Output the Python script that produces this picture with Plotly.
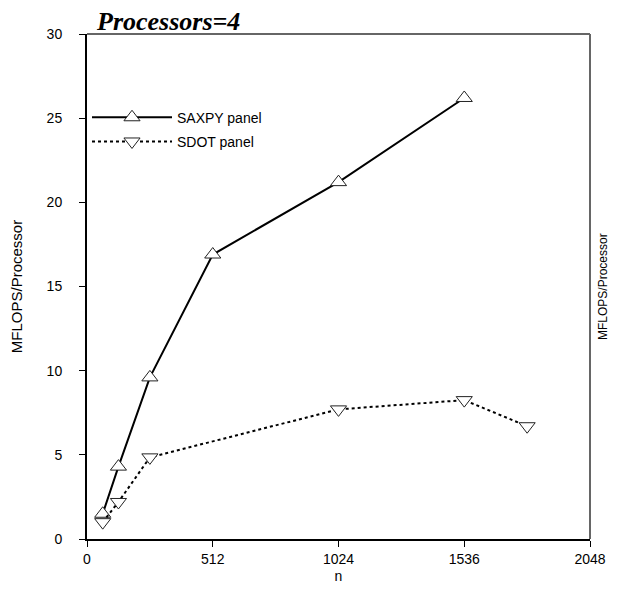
import plotly.graph_objects as go

n_saxpy = [64, 128, 256, 512, 1024, 1536]
saxpy = [1.5, 4.3, 9.6, 16.9, 21.2, 26.2]
n_sdot = [64, 128, 256, 1024, 1536, 1792]
sdot = [1.0, 2.2, 4.85, 7.7, 8.25, 6.7]
x_ticks = [0, 512, 1024, 1536, 2048]
y_ticks = [0, 5, 10, 15, 20, 25, 30]

FONT = "Liberation Sans, Arial, sans-serif"

fig = go.Figure()
fig.add_trace(go.Scatter(
    x=n_saxpy, y=saxpy, name="SAXPY panel", mode="lines+markers",
    legendgroup="a",
    line=dict(color="black", width=2),
    marker=dict(symbol="triangle-up", size=14, color="white",
                line=dict(color="#222", width=1)),
))
fig.add_trace(go.Scatter(
    x=n_sdot, y=sdot, name="SDOT panel", mode="lines+markers",
    legendgroup="b",
    line=dict(color="black", width=2, dash="3px,3px"),
    marker=dict(symbol="triangle-down", size=14, color="white",
                line=dict(color="#222", width=1)),
))

fig.update_layout(
    width=618, height=594,
    margin=dict(l=87, r=18, t=34, b=51),
    paper_bgcolor="white", plot_bgcolor="white",
    font=dict(family=FONT, size=14, color="black"),
    showlegend=True,
    legend=dict(x=0.0, y=0.866, xanchor="left", yanchor="top",
                bgcolor="rgba(0,0,0,0)", font=dict(size=14),
                traceorder="grouped", tracegroupgap=3, itemwidth=80),
    xaxis=dict(range=[0, 2048], tickvals=x_ticks, ticktext=[str(v) for v in x_ticks],
               showgrid=False, zeroline=False, showline=True, linecolor="black",
               linewidth=2, ticks="outside", ticklen=6, tickcolor="black",
               title=dict(text="n", standoff=5, font=dict(size=14))),
    yaxis=dict(range=[0, 30], tickvals=y_ticks, showgrid=False, zeroline=False,
               showline=True, linecolor="black", linewidth=2, ticks="outside",
               ticklen=6, tickcolor="black", ticklabelstandoff=14,
               title=dict(text="MFLOPS/Processor", standoff=20, font=dict(size=15))),
    shapes=[
        dict(type="line", xref="paper", yref="paper", x0=0, x1=1, y0=1, y1=1,
             line=dict(color="#666", width=2)),
        dict(type="line", xref="paper", yref="paper", x0=1, x1=1, y0=0, y1=1,
             line=dict(color="#666", width=2)),
    ],
    annotations=[
        dict(text="<b><i>Processors=4</i></b>", xref="paper", yref="paper",
             x=(94 - 87) / 513, y=1.0, xanchor="left", yanchor="bottom",
             showarrow=False, yshift=-4,
             font=dict(family="Liberation Serif, Times New Roman, serif", size=26)),
        dict(text="MFLOPS/Processor", xref="paper", yref="paper",
             x=1.0, xshift=4, y=0.499, xanchor="left", yanchor="middle",
             textangle=-90, showarrow=False, font=dict(size=12)),
    ],
)

fig.write_html("out.html")
